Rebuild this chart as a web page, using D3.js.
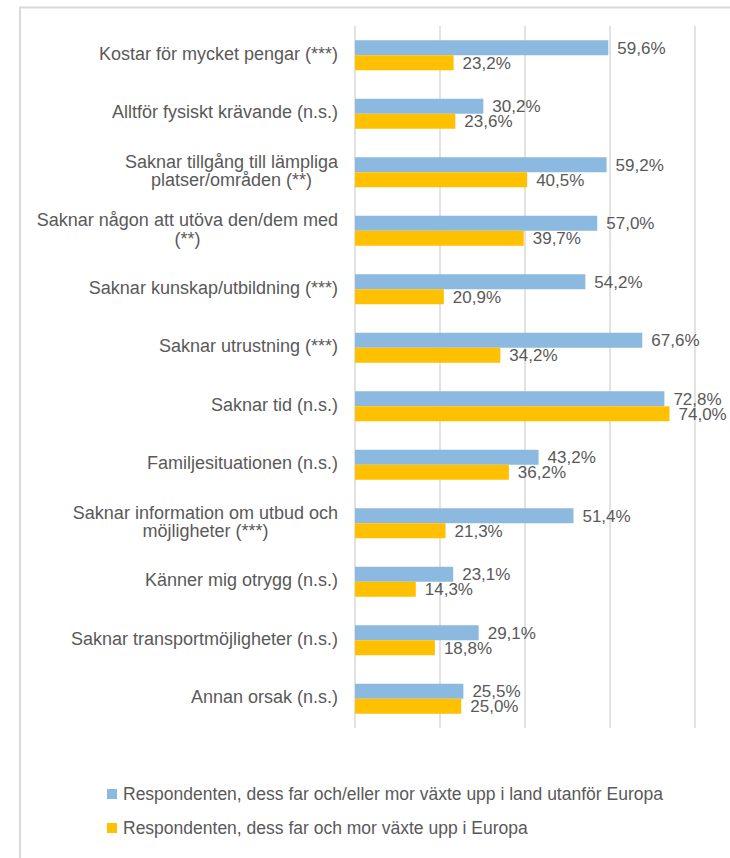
<!DOCTYPE html>
<html>

<head>
  <meta charset="utf-8" />
  <title>Skäl</title>
  <style>
    body {
      margin: 0;
      background: #fff;
    }

    text {
      font-family: "Liberation Sans", Arial, sans-serif;
      fill: #595959;
    }
  </style>
  <script src="https://cdnjs.cloudflare.com/ajax/libs/d3/7.8.5/d3.min.js"></script>
</head>

<body>
  <div id="chart"></div>
  <script>
    // category labels, one entry per line
    var categories = [
      ['Kostar för mycket pengar (***)'],
      ['Alltför fysiskt krävande (n.s.)'],
      ['Saknar tillgång till lämpliga', 'platser/områden (**)'],
      ['Saknar någon att utöva den/dem med', '(**)'],
      ['Saknar kunskap/utbildning (***)'],
      ['Saknar utrustning (***)'],
      ['Saknar tid (n.s.)'],
      ['Familjesituationen (n.s.)'],
      ['Saknar information om utbud och', 'möjligheter (***)'],
      ['Känner mig otrygg (n.s.)'],
      ['Saknar transportmöjligheter (n.s.)'],
      ['Annan orsak (n.s.)']
    ];
    var outsideEurope = [59.6, 30.2, 59.2, 57.0, 54.2, 67.6, 72.8, 43.2, 51.4, 23.1, 29.1, 25.5];
    var insideEurope = [23.2, 23.6, 40.5, 39.7, 20.9, 34.2, 74.0, 36.2, 21.3, 14.3, 18.8, 25.0];
    var seriesNames = [
      'Respondenten, dess far och/eller mor växte upp i land utanför Europa',
      'Respondenten, dess far och mor växte upp i Europa'
    ];
    var gridTicks = [0, 20, 40, 60, 80];

    var w = 730,
      h = 858;
    var colors = ['#8cb9df', '#ffc000'];

    var svg = d3.select('#chart').append('svg')
      .attr('width', w)
      .attr('height', h);

    // outer frame (only top and left edges are visible)
    svg.append('path')
      .attr('d', 'M20,' + h + 'V7.5H' + w)
      .attr('fill', 'none')
      .attr('stroke', '#d9d9d9')
      .attr('stroke-width', 2);

    var xScale = d3.scaleLinear()
      .domain([0, 80])
      .range([355, 695]);

    var yScale = d3.scaleBand()
      .domain(d3.range(categories.length))
      .range([26, 728])
      .paddingInner(0.487)
      .paddingOuter(0.2435);

    var subScale = d3.scaleBand()
      .domain([0, 1])
      .range([0, yScale.bandwidth()]);

    // gridlines
    svg.selectAll('line.grid')
      .data(gridTicks)
      .enter()
      .append('line')
      .attr('class', 'grid')
      .attr('x1', d => xScale(d))
      .attr('x2', d => xScale(d))
      .attr('y1', 26)
      .attr('y2', 728)
      .attr('stroke', '#d9d9d9')
      .attr('stroke-width', 1.5);

    var rows = categories.map(function (c, i) {
      return { label: c, values: [outsideEurope[i], insideEurope[i]] };
    });

    var groups = svg.selectAll('g.cat')
      .data(rows)
      .enter()
      .append('g')
      .attr('class', 'cat')
      .attr('transform', (d, i) => 'translate(0,' + yScale(i) + ')');

    groups.selectAll('rect')
      .data(d => d.values)
      .enter()
      .append('rect')
      .attr('x', xScale(0))
      .attr('y', (d, j) => subScale(j))
      .attr('width', d => xScale(d) - xScale(0))
      .attr('height', subScale.bandwidth())
      .attr('fill', (d, j) => colors[j]);

    groups.selectAll('text.val')
      .data(d => d.values)
      .enter()
      .append('text')
      .attr('class', 'val')
      .attr('x', d => xScale(d) + 9)
      .attr('y', (d, j) => subScale(j) + subScale.bandwidth() / 2 + 1.5)
      .attr('dominant-baseline', 'middle')
      .style('font-size', '17px')
      .text(d => d.toFixed(1).replace('.', ',') + '%');

    // category labels, multi-line ones are centred within their block
    var lineH = 19;
    groups.each(function (d) {
      var g = d3.select(this);
      var cy = yScale.bandwidth() / 2;
      var lines = g.selectAll('text.lab')
        .data(d.label)
        .enter()
        .append('text')
        .attr('class', 'lab')
        .attr('y', (t, k) => cy + (k - (d.label.length - 1) / 2) * lineH)
        .attr('dominant-baseline', 'middle')
        .style('font-size', '18px')
        .text(t => t);
      var maxW = d3.max(lines.nodes(), n => n.getComputedTextLength());
      lines.attr('x', 338 - maxW / 2).attr('text-anchor', 'middle');
    });

    // legend
    var legend = svg.selectAll('g.legend')
      .data(seriesNames)
      .enter()
      .append('g')
      .attr('class', 'legend')
      .attr('transform', (d, i) => 'translate(107,' + (794 + i * 34) + ')');

    legend.append('rect')
      .attr('x', 0)
      .attr('y', -5)
      .attr('width', 10)
      .attr('height', 10)
      .attr('fill', (d, i) => colors[i]);

    legend.append('text')
      .attr('x', 16)
      .attr('y', 1)
      .attr('dominant-baseline', 'middle')
      .style('font-size', '17.5px')
      .text(d => d);
  </script>
</body>

</html>
